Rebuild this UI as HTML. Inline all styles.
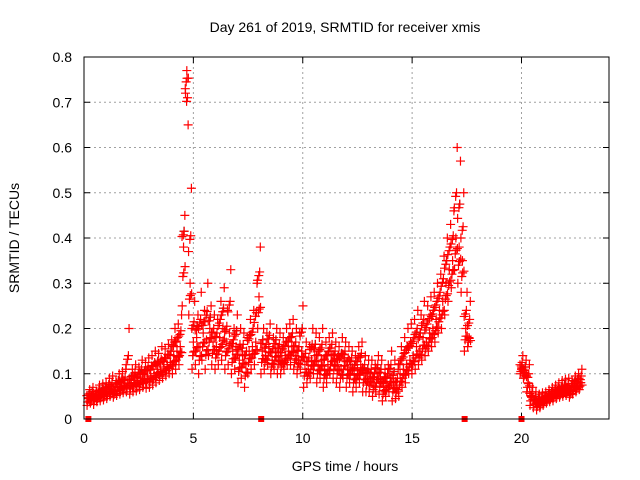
<!DOCTYPE html>
<html><head><meta charset="utf-8"><style>
body{margin:0;background:#fff}
svg{display:block;font-family:"Liberation Sans",sans-serif}
</style></head><body>
<svg id="chart" width="640" height="480">
<text x="345" y="32" font-size="14" text-anchor="middle">Day 261 of 2019, SRMTID for receiver xmis</text>
<text x="345" y="471" font-size="14" text-anchor="middle">GPS time / hours</text>
<text transform="translate(19,238) rotate(-90)" font-size="14" text-anchor="middle">SRMTID / TECUs</text>
<g id="grid"></g><g id="marks"></g>
<rect x="84" y="57" width="525" height="362" fill="none" stroke="#000" stroke-width="1"/>
</svg>
<script>
const xTicks=[0,5,10,15,20];
const yTicks=[0,0.1,0.2,0.3,0.4,0.5,0.6,0.7,0.8];
const segStart=[0.2,20.0];
const segStep=0.15;
const seg1High=[65,70,62,75,78,80,90,95,85,100,105,110,200,110,120,115,130,125,135,140,150,145,160,155,165,175,200,210,230,450,650,510,260,230,280,240,300,250,230,220,260,290,240,330,200,230,200,190,180,220,240,300,380,200,190,210,180,200,190,180,200,210,220,200,190,250,170,160,200,190,180,200,170,180,190,170,160,180,170,160,150,140,160,170,140,130,130,120,140,130,110,120,150,130,110,160,180,200,210,220,240,230,260,250,270,280,300,320,360,400,430,460,600,570,500,280,260];
const seg1Mid=[45,50,48,52,55,58,62,65,60,70,72,75,80,78,85,82,90,88,95,95,100,110,105,115,120,125,140,150,160,380,770,300,170,180,160,190,175,200,170,160,180,200,170,190,150,160,130,140,120,150,160,170,270,150,140,160,130,150,140,130,140,150,160,140,130,150,120,110,130,140,120,130,110,120,140,130,120,110,130,110,120,100,110,120,100,90,90,80,100,90,70,80,90,80,70,100,110,120,130,140,160,150,180,170,190,200,220,240,260,300,330,350,400,380,350,200,180];
const seg1Low=[30,35,32,38,40,42,45,50,48,52,55,58,60,55,60,62,65,70,68,70,75,80,85,90,95,100,100,110,120,250,720,230,110,120,100,130,110,140,120,110,120,130,110,120,100,110,80,90,70,100,110,120,200,100,110,120,100,110,100,100,110,120,120,110,100,110,70,80,90,100,80,90,70,80,100,90,80,70,90,70,80,60,70,80,60,60,60,50,60,55,40,50,60,40,45,50,70,80,100,100,110,120,130,140,150,160,170,190,200,230,260,290,330,300,280,150,160];
const seg2High=[140,130,120,70,60,55,58,60,65,70,75,80,85,88,90,85,95,100,110];
const seg2Mid=[110,100,80,50,40,35,38,42,45,50,55,60,58,62,65,60,70,75,80];
const seg2Low=[100,90,60,30,25,20,25,30,35,38,40,45,48,50,52,48,55,60,65];
const zeroHours=[0.2,8.1,17.4,20.0];
const X0=84,X1=609,Y0=419,Y1=57;
const xs=h=>X0+(h/24)*(X1-X0);
const ys=v=>Y0-(v/0.8)*(Y0-Y1);
const NS="http://www.w3.org/2000/svg";
const grid=document.getElementById('grid'),marks=document.getElementById('marks');
function mk(tag,attrs,parent){const e=document.createElementNS(NS,tag);for(const k in attrs)e.setAttribute(k,attrs[k]);parent.appendChild(e);return e;}
xTicks.forEach(t=>{const x=xs(t);
 if(t>0){const l=mk('line',{x1:x,x2:x,y1:Y0,y2:Y1,stroke:'#a0a0a0','stroke-dasharray':'2,3'},grid);
 
 }
 mk('line',{x1:x,x2:x,y1:Y0,y2:Y0-6,stroke:'#000'},grid);mk('line',{x1:x,x2:x,y1:Y1,y2:Y1+6,stroke:'#000'},grid);
 const tx=mk('text',{x:x,y:443,'font-size':14,'text-anchor':'middle'},grid);tx.textContent=t;
 
 });
yTicks.forEach(t=>{const y=ys(t);
 if(t>0&&t<0.8){const l=mk('line',{x1:X0,x2:X1,y1:y,y2:y,stroke:'#a0a0a0','stroke-dasharray':'2,3'},grid);
 
 }
 mk('line',{x1:X0,x2:X0+6,y1:y,y2:y,stroke:'#000'},grid);mk('line',{x1:X1,x2:X1-6,y1:y,y2:y,stroke:'#000'},grid);
 const tx=mk('text',{x:72,y:y+5,'font-size':14,'text-anchor':'end'},grid);tx.textContent=t===0?'0':t.toFixed(1);
 
 });
function plus(h,v,col){const x=xs(h),y=ys(v);
 const p=mk('path',{d:`M${x-4.5},${y}h9M${x},${y-4.5}v9`,stroke:col||'#ff0000','stroke-width':1.2,fill:'none'},marks);
 
 }
function drawSeg(start,hi,mid,lo){for(let i=0;i<mid.length;i++){const h=start+segStep*i;
 const m=mid[i]/1000,a=hi[i]/1000,b=lo[i]/1000;
 if(i%4===1)plus(h+0.02,(m+a)/2,'#404040');
 plus(h-0.06,b);plus(h-0.03,(m+b)/2);plus(h,m);plus(h+0.03,(m+a)/2);plus(h+0.06,a);
 plus(h-0.07,(2*m+a)/3);plus(h+0.07,(2*m+b)/3);plus(h+0.01,(m+b)/2+0.008);plus(h-0.01,(m+a)/2-0.008);}}
drawSeg(segStart[0],seg1High,seg1Mid,seg1Low);
drawSeg(segStart[1],seg2High,seg2Mid,seg2Low);
zeroHours.forEach(h=>{const r=mk('rect',{x:xs(h)-3,y:Y0-3,width:6,height:6,fill:'#ff0000'},marks);
 
 });
</script>
</body></html>
